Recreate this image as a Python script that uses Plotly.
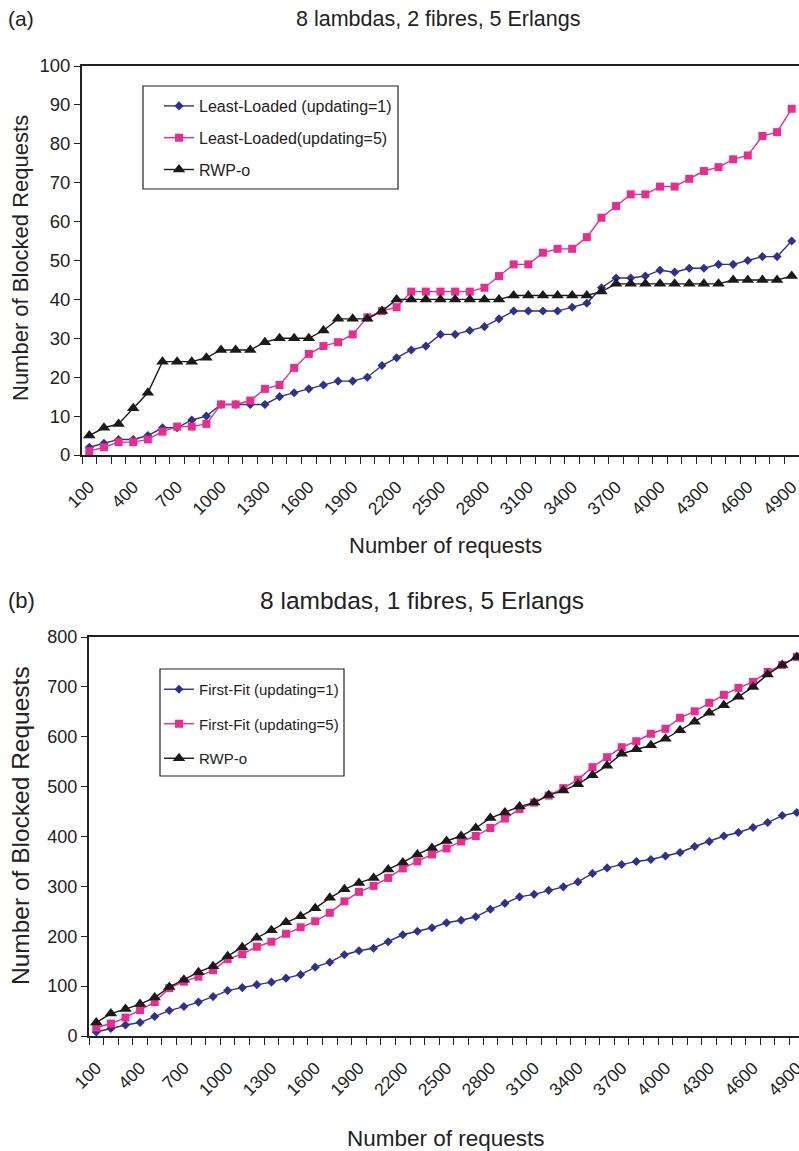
import plotly.graph_objects as go

# ---------------- data ----------------
requests = list(range(100, 5000, 100))
tick_labels = ["100", "400", "700", "1000", "1300", "1600", "1900", "2200", "2500",
               "2800", "3100", "3400", "3700", "4000", "4300", "4600", "4900"]

# (a) 8 lambdas, 2 fibres, 5 Erlangs
ll_upd1 = [2, 3, 4, 4, 5, 7, 7, 9, 10, 13, 13, 13, 13, 15, 16, 17, 18, 19, 19, 20,
           23, 25, 27, 28, 31, 31, 32, 33, 35, 37, 37, 37, 37, 38, 39, 43, 45.5, 45.5, 46, 47.5,
           47, 48, 48, 49, 49, 50, 51, 51, 55]
ll_upd5 = [1, 2, 3.3, 3.3, 4, 6, 7.3, 7.3, 8, 13, 13, 14, 17, 18, 22.4, 26, 28, 29, 31, 35.4,
           37, 38, 42, 42, 42, 42, 42, 43, 46, 49, 49, 52, 53, 53, 56, 61, 64, 67, 67, 69,
           69, 71, 73, 74, 76, 77, 82, 83, 89]
rwp_a = [5, 7, 8, 12, 16, 24, 24, 24, 25, 27, 27, 27, 29, 30, 30, 30, 32, 35, 35, 35,
         37, 40, 40, 40, 40, 40, 40, 40, 40, 41, 41, 41, 41, 41, 41, 42, 44, 44, 44, 44,
         44, 44, 44, 44, 45, 45, 45, 45, 46]

# (b) 8 lambdas, 1 fibres, 5 Erlangs
ff_upd1 = [8, 15, 22, 27, 39, 51, 59, 68, 79, 91, 97, 103, 108, 116, 123, 138, 148, 163, 171, 176,
           189, 203, 210, 217, 227, 232, 239, 254, 266, 279, 284, 292, 299, 309, 326, 337, 344, 350, 354, 361,
           368, 380, 390, 401, 408, 418, 428, 442, 448]
ff_upd5 = [17, 25, 37, 52, 68, 96, 109, 119, 132, 154, 164, 179, 189, 205, 218, 230, 247, 270, 289, 301,
           317, 336, 350, 364, 376, 390, 401, 417, 436, 455, 468, 482, 497, 514, 539, 559, 579, 591, 606, 616,
           638, 651, 668, 684, 698, 710, 730, 744, 760]
rwp_b = [27, 45, 54, 64, 77, 98, 113, 128, 140, 160, 178, 197, 212, 228, 240, 256, 277, 294, 307, 317,
         334, 348, 364, 377, 391, 401, 417, 437, 448, 460, 468, 483, 492, 505, 523, 542, 566, 575, 583, 596,
         613, 630, 648, 663, 680, 700, 725, 744, 760]

# ---------------- styling ----------------
FONT = "Liberation Sans, Arial, Helvetica, sans-serif"
BLUE = "#2E3192"
PINK = "#EC2A8F"
BLACK = "#1A1A1A"
INK = "#222222"
W, H = 799, 1151

fig = go.Figure()

def add(x, y, name, color, symbol, size, xa, ya, legend, group):
    fig.add_trace(go.Scatter(
        x=x, y=y, name=name, mode="lines+markers",
        line=dict(color=color, width=1.4),
        marker=dict(color=color, symbol=symbol, size=size, line=dict(width=0)),
        xaxis=xa, yaxis=ya, legend=legend, legendgroup=group, cliponaxis=False,
    ))

add(requests, ll_upd1, "Least-Loaded (updating=1)", BLUE, "diamond", 7, "x", "y", "legend", "a1")
add(requests, ll_upd5, "Least-Loaded(updating=5)", PINK, "square", 8, "x", "y", "legend", "a2")
add(requests, rwp_a, "RWP-o", BLACK, "triangle-up", 11, "x", "y", "legend", "a3")
add(requests, ff_upd1, "First-Fit (updating=1)", BLUE, "diamond", 7, "x2", "y2", "legend2", "b1")
add(requests, ff_upd5, "First-Fit (updating=5)", PINK, "square", 8, "x2", "y2", "legend2", "b2")
add(requests, rwp_b, "RWP-o", BLACK, "triangle-up", 11, "x2", "y2", "legend2", "b3")

tickvals = [int(t) for t in tick_labels]

def xaxis(domain, anchor, rng):
    return dict(
        domain=domain, anchor=anchor, range=rng,
        tickmode="array", tickvals=tickvals, ticktext=tick_labels,
        ticks="", tickangle=-45, showgrid=False, zeroline=False,
        showline=True, linecolor=INK, linewidth=2, mirror=True,
        tickfont=dict(family=FONT, size=17.5, color=INK), ticklabelstandoff=13,
        ticklabeloverflow="allow",
        minor=dict(tick0=50, dtick=100, ticks="outside", ticklen=7, tickcolor=INK, tickwidth=1),
        automargin=False,
    )

def yaxis(domain, anchor, rng, dtick, fs):
    return dict(
        domain=domain, anchor=anchor, range=rng, dtick=dtick,
        ticks="outside", ticklen=6, tickcolor=INK, showgrid=False, zeroline=False,
        showline=True, linecolor=INK, linewidth=2, mirror=False,
        tickfont=dict(family=FONT, size=fs, color=INK),
        automargin=False,
    )

fy = lambda py: 1 - py / H
fx = lambda px: px / W

fig.update_layout(
    width=W, height=H,
    margin=dict(l=0, r=0, t=0, b=0),
    paper_bgcolor="white", plot_bgcolor="white",
    font=dict(family=FONT, color=INK),
    xaxis=xaxis([fx(82), 1.0], "y", [50, 4950]),
    yaxis=yaxis([fy(455), fy(66)], "x", [0, 100], 10, 18.5),
    xaxis2=xaxis([fx(89), 1.0], "y2", [50, 4915]),
    yaxis2=yaxis([fy(1036), fy(637)], "x2", [0, 800], 100, 18),
    legend=dict(x=fx(159), y=fy(89), xanchor="left", yanchor="top",
                borderwidth=0, bgcolor="rgba(0,0,0,0)",
                font=dict(family=FONT, size=16, color=INK), tracegroupgap=8),
    legend2=dict(x=fx(159), y=fy(673), xanchor="left", yanchor="top",
                 borderwidth=0, bgcolor="rgba(0,0,0,0)",
                 font=dict(family=FONT, size=15, color=INK), tracegroupgap=12),
    showlegend=True,
)

# legend frames
fig.add_shape(type="rect", xref="paper", yref="paper", x0=fx(143), x1=fx(398), y0=fy(189), y1=fy(86),
              line=dict(color=INK, width=1.2), fillcolor="white", layer="below")
fig.add_shape(type="rect", xref="paper", yref="paper", x0=fx(160), x1=fx(344), y0=fy(776), y1=fy(669),
              line=dict(color=INK, width=1.2), fillcolor="white", layer="below")

ann = [
    dict(text="(a)", x=fx(6), y=fy(19), xanchor="left", yanchor="middle", size=21),
    dict(text="8 lambdas, 2 fibres, 5 Erlangs", x=fx(438), y=fy(19), xanchor="center", yanchor="middle", size=21.5),
    dict(text="(b)", x=fx(6), y=fy(600), xanchor="left", yanchor="middle", size=22),
    dict(text="8 lambdas, 1 fibres, 5 Erlangs", x=fx(422), y=fy(600), xanchor="center", yanchor="middle", size=24.5),
    dict(text="Number of requests", x=fx(445), y=fy(545), xanchor="center", yanchor="middle", size=22),
    dict(text="Number of requests", x=fx(446), y=fy(1138), xanchor="center", yanchor="middle", size=22.5),
]
for a in ann:
    fig.add_annotation(text=a["text"], x=a["x"], y=a["y"], xref="paper", yref="paper",
                       xanchor=a["xanchor"], yanchor=a["yanchor"], showarrow=False,
                       font=dict(family=FONT, size=a["size"], color=INK))
for yc, fs in ((fy(258), 22), (fy(826), 24.5)):
    fig.add_annotation(text="Number of Blocked Requests", x=fx(20), y=yc, xref="paper", yref="paper",
                       xanchor="center", yanchor="middle", textangle=-90, showarrow=False,
                       font=dict(family=FONT, size=fs, color=INK))

fig.write_html("out.html", config={"displayModeBar": False},
               post_script="document.body.style.margin='0px';")
